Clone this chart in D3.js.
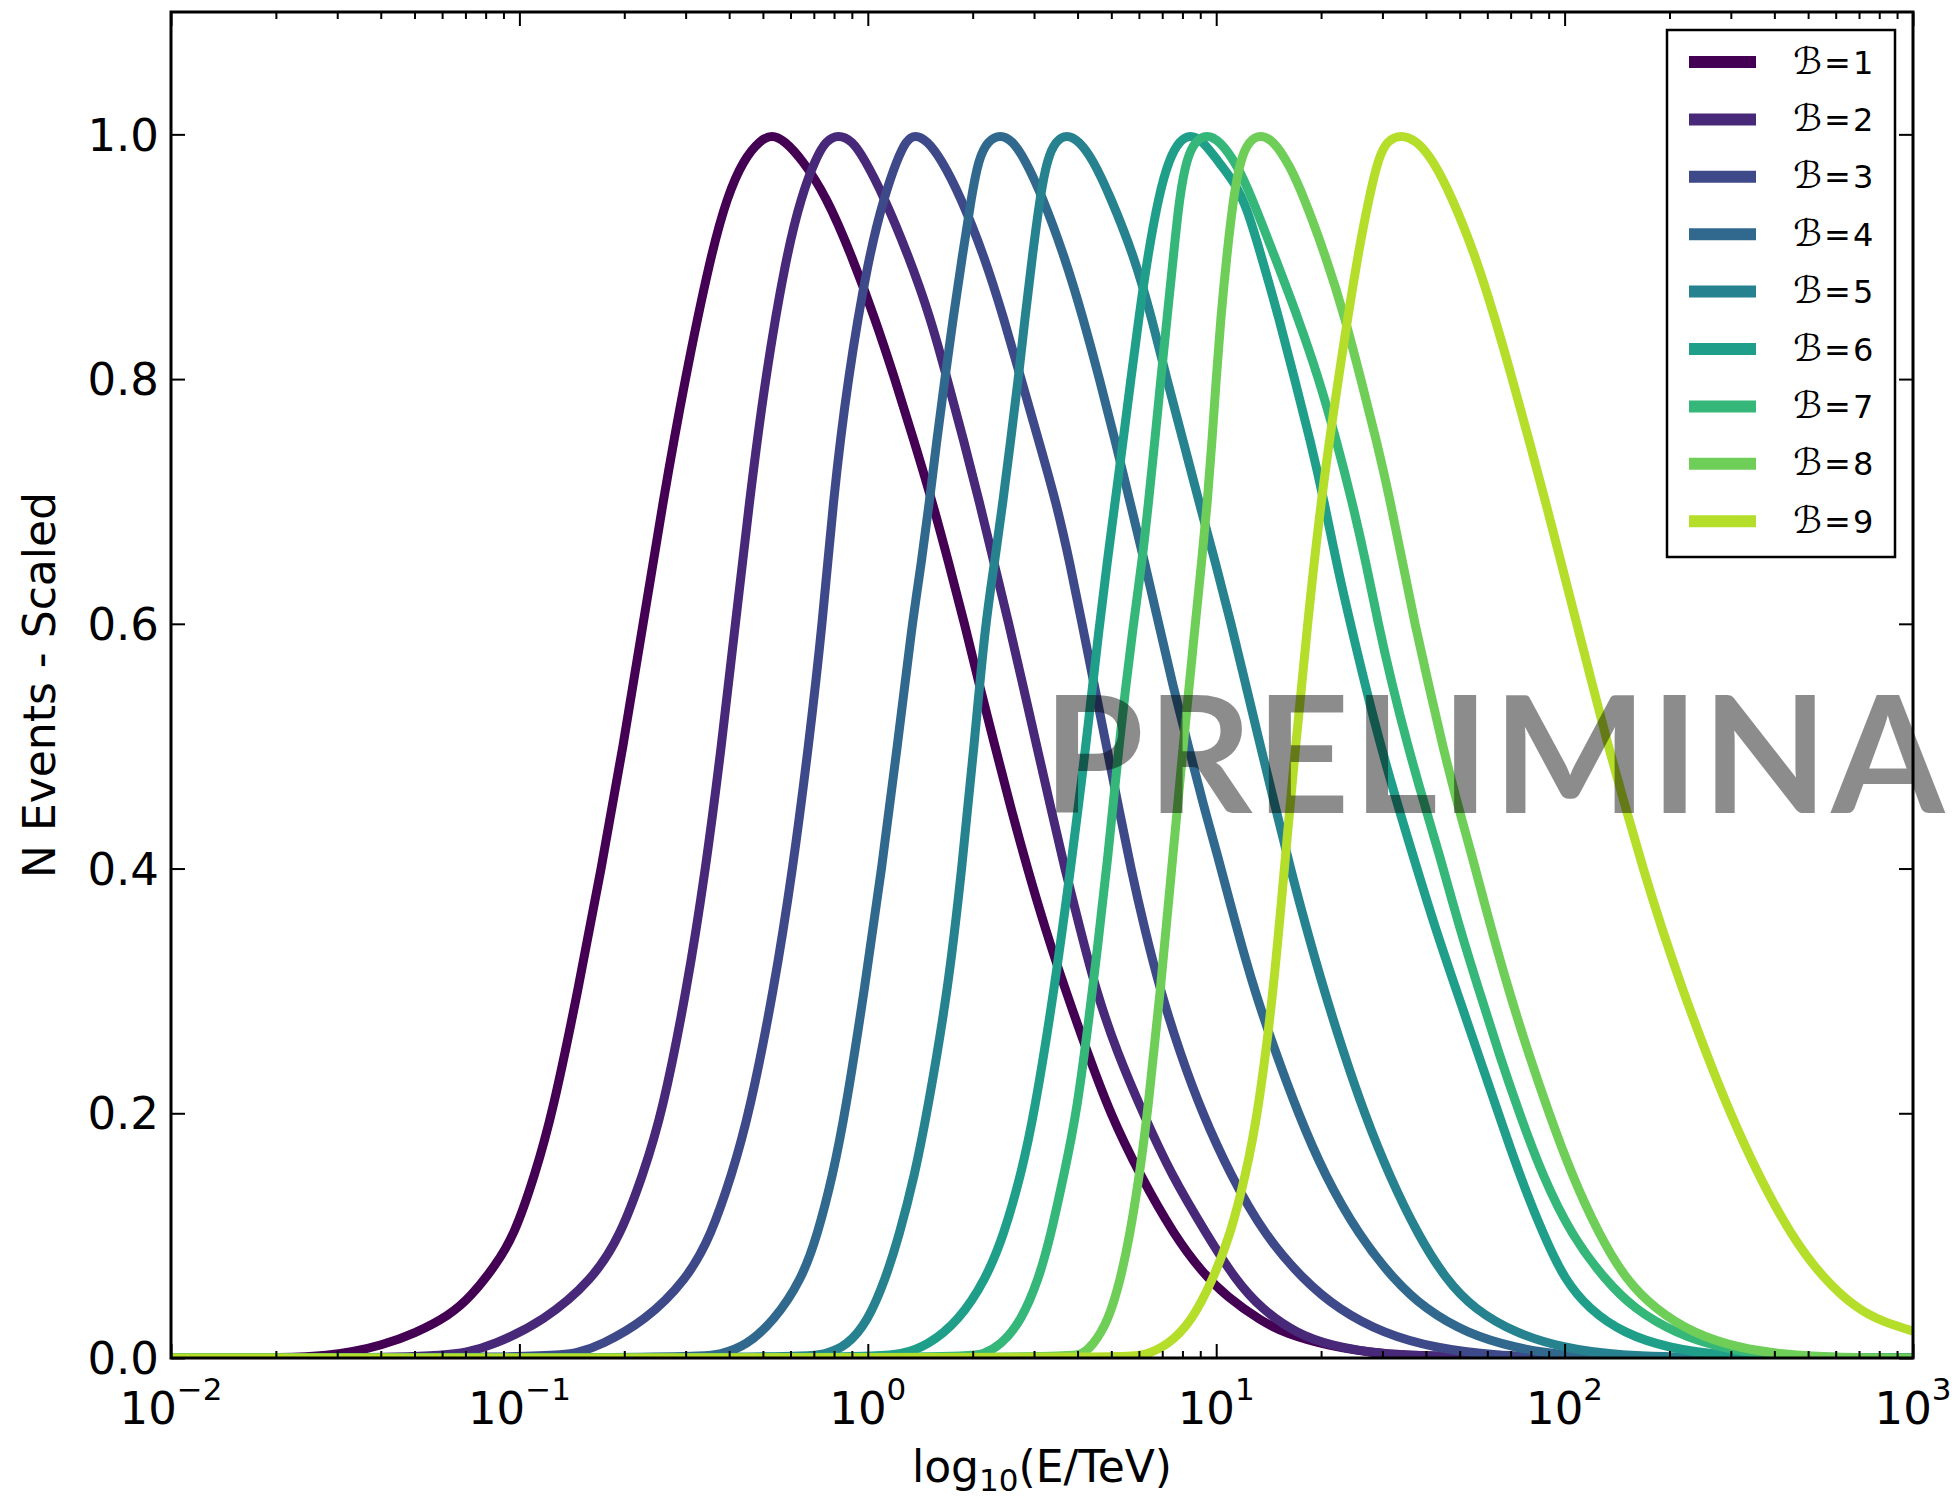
<!DOCTYPE html>
<html><head><meta charset="utf-8">
<script src="https://cdn.jsdelivr.net/npm/d3@7"></script>
<style>body{margin:0;background:#fff}svg{display:block}</style>
</head><body>
<svg id="chart" width="1954" height="1500"></svg>
<script>
// ---- data: [log10(E/TeV), N events scaled] ----
const seriesNames = ["1","2","3","4","5","6","7","8","9"];
const seriesColors = ["#440154","#482878","#3e4989","#31688e","#26828e","#1f9e89","#35b779","#6ece58","#b5de2b"];
const b1 = [[-2,0],[-1.65,0],[-1.55,.002],[-1.48,.005],[-1.4,.01],[-1.3,.02],[-1.2,.035],[-1.14,.05],[-1.07,.075],[-1.015,.1],[-0.955,.15],[-0.905,.2],[-0.832,.3],[-0.765,.4],[-0.702,.5],[-0.645,.6],[-0.588,.7],[-0.525,.8],[-0.452,.9],[-0.403,.95],[-0.355,.98],[-0.31,.995],[-0.275,1],
  [-0.24,.995],[-0.19,.98],[-0.12,.95],[-0.045,.9],[0.02,.85],[0.078,.8],[0.132,.75],[0.185,.7],[0.232,.65],[0.278,.6],[0.32,.55],[0.365,.5],[0.41,.45],[0.458,.4],[0.51,.35],[0.568,.3],[0.63,.25],[0.695,.2],[0.78,.15],[0.88,.1],[0.96,.07],[1.03,.05],[1.13,.03],[1.2,.02],[1.32,.01],[1.47,.003],[1.7,0],[3,0]];
const b2 = [[-2,0],[-1.25,0],[-1.145,.005],[-1.08,.01],[-0.93,.03],[-0.79,.064],[-0.71,.1],[-0.645,.15],[-0.59,.2],[-0.52,.3],[-0.465,.4],[-0.42,.5],[-0.38,.6],[-0.34,.7],[-0.295,.8],[-0.235,.9],[-0.19,.95],[-0.15,.98],[-0.12,.995],[-0.085,1],
  [-0.045,.995],[-0.01,.98],[0.045,.95],[0.118,.9],[0.18,.85],[0.228,.8],[0.275,.75],[0.32,.7],[0.362,.65],[0.405,.6],[0.445,.55],[0.485,.5],[0.525,.45],[0.565,.4],[0.61,.35],[0.655,.3],[0.715,.25],[0.79,.2],[0.87,.15],[0.975,.1],[1.055,.064],[1.13,.04],[1.23,.02],[1.33,.01],[1.47,.003],[1.7,0],[3,0]];
const b3 = [[-2,0],[-0.9,0],[-0.826,.005],[-0.77,.01],[-0.64,.03],[-0.52,.064],[-0.45,.1],[-0.39,.15],[-0.34,.2],[-0.27,.3],[-0.215,.4],[-0.17,.5],[-0.13,.6],[-0.1,.7],[-0.058,.8],[0.002,.9],[0.048,.95],[0.085,.98],[0.11,.995],[0.1355,1],
  [0.17,.995],[0.21,.98],[0.265,.95],[0.335,.9],[0.39,.85],[0.44,.8],[0.49,.75],[0.54,.7],[0.58,.65],[0.615,.6],[0.65,.55],[0.685,.5],[0.72,.45],[0.755,.4],[0.795,.35],[0.84,.3],[0.895,.25],[0.96,.2],[1.04,.15],[1.14,.1],[1.25,.064],[1.35,.04],[1.48,.02],[1.63,.008],[1.8,.002],[2.0,0],[3,0]];
const b4 = [[-2,0],[-0.5,0],[-0.42,.003],[-0.35,.01],[-0.27,.03],[-0.19,.064],[-0.145,.1],[-0.1,.15],[-0.065,.2],[-0.01,.3],[0.04,.4],[0.085,.5],[0.127,.6],[0.154,.65],[0.177,.7],[0.198,.75],[0.221,.8],[0.245,.85],[0.271,.9],[0.298,.95],[0.318,.98],[0.345,.995],[0.38,1],
  [0.415,.995],[0.45,.98],[0.5,.95],[0.565,.9],[0.618,.85],[0.665,.8],[0.71,.75],[0.752,.7],[0.795,.65],[0.835,.6],[0.875,.55],[0.92,.5],[0.965,.45],[1.0,.415],[1.06,.35],[1.11,.3],[1.17,.25],[1.235,.2],[1.31,.15],[1.41,.1],[1.51,.064],[1.6,.04],[1.72,.02],[1.86,.008],[2.0,.002],[2.2,0],[3,0]];
const b5 = [[-2,0],[-0.2,0],[-0.12,.003],[-0.06,.01],[0.0,.03],[0.05,.064],[0.09,.1],[0.135,.15],[0.17,.2],[0.23,.3],[0.27,.4],[0.305,.5],[0.337,.6],[0.364,.65],[0.388,.7],[0.41,.75],[0.432,.8],[0.451,.85],[0.472,.9],[0.495,.95],[0.515,.98],[0.54,.995],[0.571,1],
  [0.605,.995],[0.645,.98],[0.695,.95],[0.765,.9],[0.815,.85],[0.858,.8],[0.905,.75],[0.95,.7],[0.998,.65],[1.043,.6],[1.085,.55],[1.127,.5],[1.17,.45],[1.213,.4],[1.26,.35],[1.31,.3],[1.365,.25],[1.425,.2],[1.495,.15],[1.58,.1],[1.66,.064],[1.74,.04],[1.86,.02],[2.0,.008],[2.15,.002],[2.4,0],[3,0]];
const b6 = [[-2,0],[0.0,0],[0.1,.003],[0.17,.01],[0.26,.03],[0.338,.064],[0.39,.1],[0.44,.15],[0.478,.2],[0.535,.3],[0.589,.415],[0.626,.5],[0.665,.6],[0.687,.65],[0.71,.7],[0.733,.75],[0.755,.8],[0.778,.85],[0.803,.9],[0.835,.95],[0.865,.98],[0.895,.995],[0.925,1],
  [0.96,.995],[1.0,.98],[1.055,.96],[1.088,.94],[1.13,.9],[1.18,.85],[1.225,.8],[1.27,.75],[1.31,.7],[1.345,.65],[1.385,.6],[1.47,.5],[1.56,.415],[1.63,.35],[1.69,.3],[1.75,.25],[1.81,.2],[1.87,.15],[1.94,.1],[2.0,.064],[2.07,.04],[2.17,.02],[2.3,.008],[2.45,.002],[2.65,0],[3,0]];
const b7 = [[-2,0],[0.29,0],[0.33,.003],[0.38,.01],[0.44,.03],[0.49,.064],[0.525,.1],[0.563,.15],[0.6,.2],[0.645,.3],[0.692,.415],[0.72,.5],[0.762,.6],[0.787,.65],[0.806,.7],[0.824,.75],[0.841,.8],[0.859,.85],[0.877,.9],[0.895,.95],[0.915,.98],[0.94,.995],[0.973,1],
  [1.01,.995],[1.06,.975],[1.1,.95],[1.168,.9],[1.235,.85],[1.295,.8],[1.345,.75],[1.39,.7],[1.43,.65],[1.465,.6],[1.505,.55],[1.55,.5],[1.6,.45],[1.637,.415],[1.7,.35],[1.755,.3],[1.81,.25],[1.87,.2],[1.935,.15],[2.02,.1],[2.116,.064],[2.2,.04],[2.32,.02],[2.45,.008],[2.6,.002],[2.8,0],[3,0]];
const b8 = [[-2,0],[0.58,0],[0.615,.003],[0.645,.01],[0.69,.03],[0.725,.064],[0.752,.1],[0.78,.15],[0.803,.2],[0.84,.3],[0.872,.4],[0.905,.5],[0.94,.6],[0.958,.65],[0.975,.7],[0.988,.75],[1.0,.8],[1.013,.85],[1.03,.9],[1.05,.95],[1.07,.98],[1.095,.995],[1.126,1],
  [1.165,.995],[1.21,.975],[1.25,.95],[1.315,.9],[1.37,.85],[1.415,.8],[1.46,.75],[1.5,.7],[1.535,.65],[1.57,.6],[1.61,.55],[1.65,.5],[1.695,.45],[1.73,.415],[1.79,.35],[1.84,.3],[1.895,.25],[1.955,.2],[2.02,.15],[2.1,.1],[2.176,.064],[2.26,.04],[2.37,.02],[2.5,.008],[2.65,.002],[2.85,0],[3,0]];
const b9 = [[-2,0],[0.75,0],[0.79,.002],[0.86,.01],[0.93,.03],[0.99,.064],[1.04,.1],[1.085,.15],[1.12,.2],[1.165,.3],[1.2,.415],[1.228,.5],[1.262,.6],[1.3,.7],[1.35,.8],[1.405,.9],[1.44,.95],[1.465,.98],[1.49,.995],[1.53,1],
  [1.575,.995],[1.62,.98],[1.675,.95],[1.745,.9],[1.8,.85],[1.85,.8],[1.898,.75],[1.945,.7],[1.99,.65],[2.035,.6],[2.08,.55],[2.125,.5],[2.175,.45],[2.225,.4],[2.28,.35],[2.34,.3],[2.405,.25],[2.475,.2],[2.555,.15],[2.65,.1],[2.745,.064],[2.84,.04],[2.91,.03],[3.0,.022]];
const seriesData = [b1,b2,b3,b4,b5,b6,b7,b8,b9];

const xMajorTicks = [1e-2,1e-1,1e0,1e1,1e2,1e3];
const xTickExponents = ["\u22122","\u22121","0","1","2","3"];
const yTicks = [0,0.2,0.4,0.6,0.8,1.0];
const yTickLabels = ["0.0","0.2","0.4","0.6","0.8","1.0"];
const yLabel = "N Events - Scaled";
const watermark = "PRELIMINARY";

// ---- layout ----
const L = 171, R = 1913, T = 12, B = 1358;
const FONT = "DejaVu Sans, Liberation Sans, sans-serif";
const svg = d3.select("#chart");
const x = d3.scaleLog().domain([1e-2,1e3]).range([L,R]);
const y = d3.scaleLinear().domain([0,1.1]).range([B,T]);

svg.append("defs").append("clipPath").attr("id","plotclip")
  .append("rect").attr("x",L).attr("y",T).attr("width",R-L).attr("height",B-T);

// curves
const line = d3.line().x(d => x(Math.pow(10,d[0]))).y(d => y(d[1])).curve(d3.curveBasis);
const gLines = svg.append("g").attr("clip-path","url(#plotclip)");
seriesData.forEach((s,i) => {
  gLines.append("path").datum(s).attr("d",line)
    .attr("fill","none").attr("stroke",seriesColors[i])
    .attr("stroke-width",9).attr("stroke-linejoin","round").attr("stroke-linecap","butt");
});

// axes frame
svg.append("rect").attr("x",L).attr("y",T).attr("width",R-L).attr("height",B-T)
  .attr("fill","none").attr("stroke","#000").attr("stroke-width",3);

// minor ticks for log axis
const xMinorTicks = [];
for (let e=-2; e<3; e++) for (let m=2; m<10; m++) xMinorTicks.push(m*Math.pow(10,e));

function styleAxis(g){ g.select(".domain").remove(); g.selectAll(".tick line").attr("stroke","#000").attr("stroke-width",2); g.selectAll(".tick text").remove(); }
svg.append("g").attr("transform",`translate(0,${B})`).call(d3.axisBottom(x).tickValues(xMajorTicks).tickSize(-14)).call(styleAxis);
svg.append("g").attr("transform",`translate(0,${B})`).call(d3.axisBottom(x).tickValues(xMinorTicks).tickSize(-7)).call(styleAxis);
svg.append("g").attr("transform",`translate(0,${T})`).call(d3.axisTop(x).tickValues(xMajorTicks).tickSize(-14)).call(styleAxis);
svg.append("g").attr("transform",`translate(0,${T})`).call(d3.axisTop(x).tickValues(xMinorTicks).tickSize(-7)).call(styleAxis);
svg.append("g").attr("transform",`translate(${L},0)`).call(d3.axisLeft(y).tickValues(yTicks).tickSize(-14)).call(styleAxis);
svg.append("g").attr("transform",`translate(${R},0)`).call(d3.axisRight(y).tickValues(yTicks).tickSize(-14)).call(styleAxis);

// y tick labels
svg.append("g").selectAll("text").data(yTicks).join("text")
  .attr("x",L-12).attr("y",d=>y(d)).attr("dy","0.36em")
  .attr("text-anchor","end").attr("font-family",FONT).attr("font-size",45).attr("fill","#000")
  .text((d,i)=>yTickLabels[i]);

// x tick labels 10^n
const xl = svg.append("g").selectAll("text").data(xMajorTicks).join("text")
  .attr("x",d=>x(d)).attr("y",1424).attr("text-anchor","middle")
  .attr("font-family",FONT).attr("font-size",45).attr("fill","#000");
xl.append("tspan").text("10");
xl.append("tspan").attr("dy",-24).attr("font-size",31).text((d,i)=>xTickExponents[i]);

// axis labels
const xlab = svg.append("text").attr("x",(L+R)/2).attr("y",1482).attr("text-anchor","middle")
  .attr("font-family",FONT).attr("font-size",44).attr("fill","#000");
xlab.append("tspan").text("log");
xlab.append("tspan").attr("dy",9).attr("font-size",31).text("10");
xlab.append("tspan").attr("dy",-9).text("(E/TeV)");

svg.append("text").attr("transform",`translate(55,${(T+B)/2}) rotate(-90)`).attr("text-anchor","middle")
  .attr("font-family",FONT).attr("font-size",44).attr("fill","#000").text(yLabel);

// legend
const lg = svg.append("g");
lg.append("rect").attr("x",1667).attr("y",30).attr("width",228).attr("height",527)
  .attr("fill","#fff").attr("stroke","#000").attr("stroke-width",2.5);
const ly0 = 62, ldy = 57.4;
seriesNames.forEach((n,i) => {
  const yy = ly0 + i*ldy;
  lg.append("line").attr("x1",1689).attr("x2",1756).attr("y1",yy).attr("y2",yy)
    .attr("stroke",seriesColors[i]).attr("stroke-width",12);
  const t = lg.append("text").attr("x",1793).attr("y",yy).attr("dy","0.36em")
    .attr("font-family",FONT).attr("font-size",32).attr("fill","#000");
  t.append("tspan").attr("font-style","italic").attr("font-size",37).text("\u212C");
  t.append("tspan").attr("dx",2).text("=");
  t.append("tspan").attr("dx",2).text(n);
});

// watermark
const wm = svg.append("text").attr("x",1043).attr("y",813)
  .attr("font-family","Lato, 'Open Sans', sans-serif").attr("font-weight",700).attr("font-size",163)
  .attr("fill","#000").attr("fill-opacity",0.45).text(watermark);
const nat = wm.node().getSubStringLength(0,9);
wm.attr("letter-spacing", (905 - nat)/9);
</script>
</body></html>
